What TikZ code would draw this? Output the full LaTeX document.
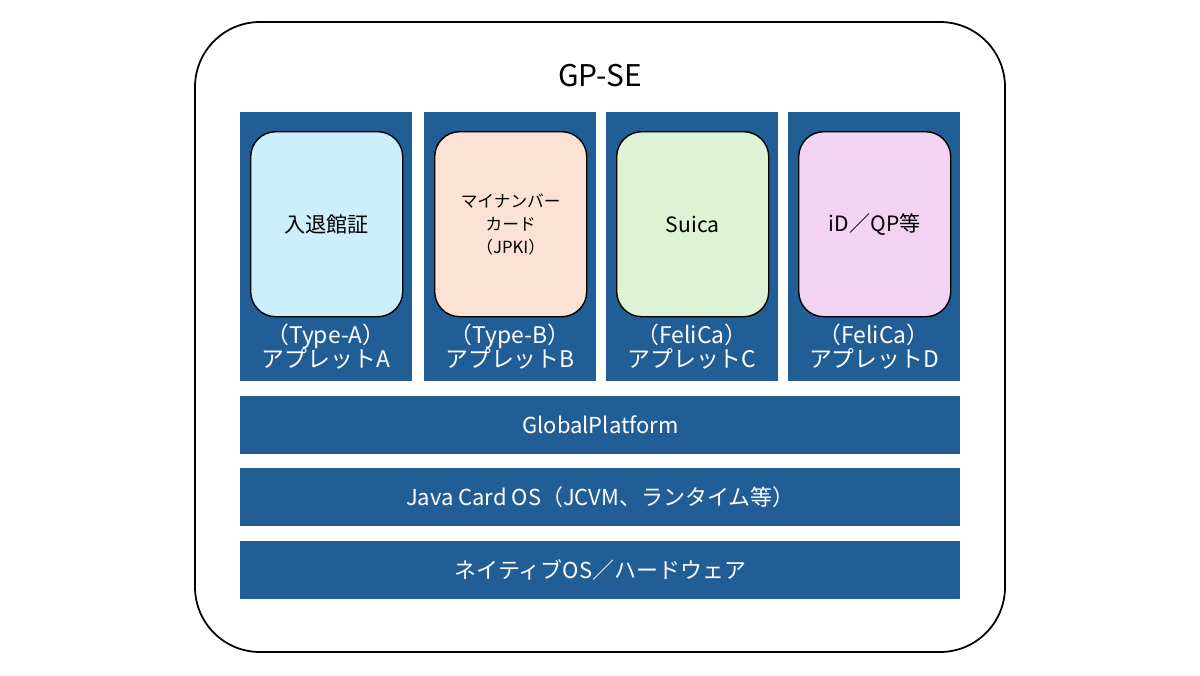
\documentclass[tikz,border=0pt]{standalone}
\usepackage{fontspec}
\setmainfont{Noto Sans CJK JP}
\definecolor{seblue}{HTML}{225E96}
\definecolor{cardA}{HTML}{CDEEFB}
\definecolor{cardB}{HTML}{FBE2D5}
\definecolor{cardC}{HTML}{DDF3D3}
\definecolor{cardD}{HTML}{F2D3F1}
\tikzset{
  col/.style={fill=seblue,draw=none,minimum width=3.44cm,minimum height=5.38cm,anchor=north west,inner sep=0pt},
  card/.style={draw=black,line width=0.8pt,rounded corners=0.5cm,minimum width=3.04cm,minimum height=3.7cm,anchor=north west,align=center,inner sep=0pt,font=\fontsize{12}{13}\selectfont},
  applabel/.style={text=white,align=center,font=\fontsize{13}{14}\selectfont},
  layer/.style={fill=seblue,draw=none,minimum width=14.4cm,minimum height=1.15cm,anchor=north west,text=white,font=\fontsize{12.5}{14}\selectfont,inner sep=0pt}
}
\begin{document}
\begin{tikzpicture}
\useasboundingbox (0,0) rectangle (24,-13.5);
    % outer frame
    \draw [line width=1pt,rounded corners=1.3cm] (3.9,-0.44) rectangle (20.1,-13.04);
    \node (title) at (12,-1.52) {\fontsize{17}{20}\selectfont GP-SE};

    % applet columns
    \node [col] (colA) at (4.8,-2.24) {};
    \node [col] (colB) at (8.48,-2.24) {};
    \node [col] (colC) at (12.12,-2.24) {};
    \node [col] (colD) at (15.76,-2.24) {};

    \node [card,fill=cardA] (cardA) at (5.0,-2.62) {入退館証};
    \node [card,fill=cardB] (cardB) at (8.68,-2.62) {\fontsize{9.5}{11}\selectfont マイナンバー\\ \fontsize{9.5}{11}\selectfont カード\\ \fontsize{9.5}{11}\selectfont （JPKI）};
    \node [card,fill=cardC] (cardC) at (12.32,-2.62) {Suica};
    \node [card,fill=cardD] (cardD) at (15.96,-2.62) {iD／QP等};

    \node [applabel] (labA) at (6.52,-6.93) {（Type-A）\\アプレットA};
    \node [applabel] (labB) at (10.2,-6.93) {（Type-B）\\アプレットB};
    \node [applabel] (labC) at (13.84,-6.93) {（FeliCa）\\アプレットC};
    \node [applabel] (labD) at (17.48,-6.93) {（FeliCa）\\アプレットD};

    % layers
    \node [layer] (gp) at (4.8,-7.92) {GlobalPlatform};
    \node [layer] (jc) at (4.8,-9.36) {Java Card OS（JCVM、ランタイム等）};
    \node [layer] (hw) at (4.8,-10.82) {ネイティブOS／ハードウェア};
\end{tikzpicture}
\end{document}
